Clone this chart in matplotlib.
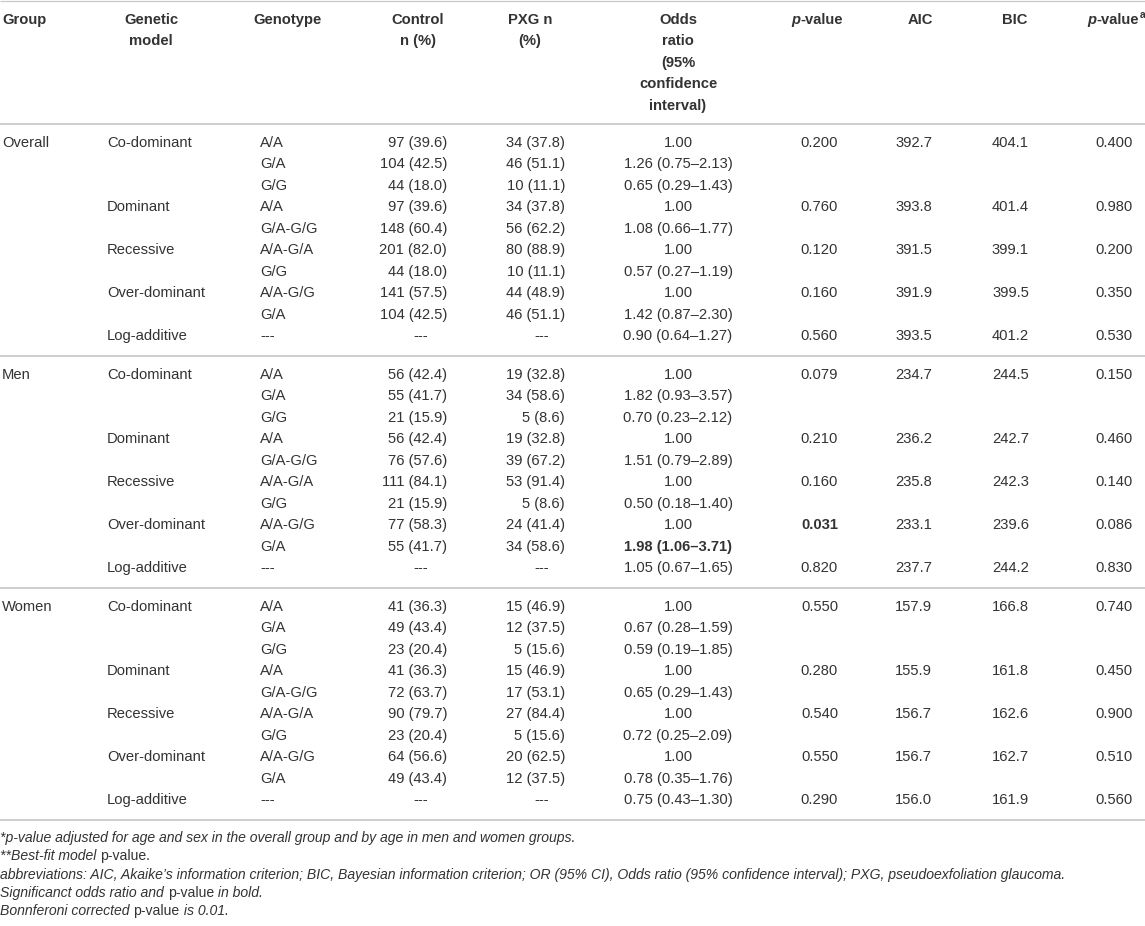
import matplotlib
matplotlib.use("Agg")
import matplotlib.pyplot as plt

# ---------------- data ----------------
groups = ["Overall", "Men", "Women"]
models = ["Co-dominant", "Dominant", "Recessive", "Over-dominant", "Log-additive"]
genotypes = [["A/A", "G/A", "G/G"], ["A/A", "G/A-G/G"], ["A/A-G/A", "G/G"],
             ["A/A-G/G", "G/A"], ["---"]]

control = [
    [["97 (39.6)", "104 (42.5)", "44 (18.0)"], ["97 (39.6)", "148 (60.4)"],
     ["201 (82.0)", "44 (18.0)"], ["141 (57.5)", "104 (42.5)"], ["---"]],
    [["56 (42.4)", "55 (41.7)", "21 (15.9)"], ["56 (42.4)", "76 (57.6)"],
     ["111 (84.1)", "21 (15.9)"], ["77 (58.3)", "55 (41.7)"], ["---"]],
    [["41 (36.3)", "49 (43.4)", "23 (20.4)"], ["41 (36.3)", "72 (63.7)"],
     ["90 (79.7)", "23 (20.4)"], ["64 (56.6)", "49 (43.4)"], ["---"]],
]
pxg = [
    [["34 (37.8)", "46 (51.1)", "10 (11.1)"], ["34 (37.8)", "56 (62.2)"],
     ["80 (88.9)", "10 (11.1)"], ["44 (48.9)", "46 (51.1)"], ["---"]],
    [["19 (32.8)", "34 (58.6)", "5 (8.6)"], ["19 (32.8)", "39 (67.2)"],
     ["53 (91.4)", "5 (8.6)"], ["24 (41.4)", "34 (58.6)"], ["---"]],
    [["15 (46.9)", "12 (37.5)", "5 (15.6)"], ["15 (46.9)", "17 (53.1)"],
     ["27 (84.4)", "5 (15.6)"], ["20 (62.5)", "12 (37.5)"], ["---"]],
]
odds = [
    [["1.00", "1.26 (0.75\u20132.13)", "0.65 (0.29\u20131.43)"], ["1.00", "1.08 (0.66\u20131.77)"],
     ["1.00", "0.57 (0.27\u20131.19)"], ["1.00", "1.42 (0.87\u20132.30)"], ["0.90 (0.64\u20131.27)"]],
    [["1.00", "1.82 (0.93\u20133.57)", "0.70 (0.23\u20132.12)"], ["1.00", "1.51 (0.79\u20132.89)"],
     ["1.00", "0.50 (0.18\u20131.40)"], ["1.00", "1.98 (1.06\u20133.71)"], ["1.05 (0.67\u20131.65)"]],
    [["1.00", "0.67 (0.28\u20131.59)", "0.59 (0.19\u20131.85)"], ["1.00", "0.65 (0.29\u20131.43)"],
     ["1.00", "0.72 (0.25\u20132.09)"], ["1.00", "0.78 (0.35\u20131.76)"], ["0.75 (0.43\u20131.30)"]],
]
pvals = [["0.200", "0.760", "0.120", "0.160", "0.560"],
         ["0.079", "0.210", "0.160", "0.031", "0.820"],
         ["0.550", "0.280", "0.540", "0.550", "0.290"]]
aic = [["392.7", "393.8", "391.5", "391.9", "393.5"],
       ["234.7", "236.2", "235.8", "233.1", "237.7"],
       ["157.9", "155.9", "156.7", "156.7", "156.0"]]
bic = [["404.1", "401.4", "399.1", "399.5", "401.2"],
       ["244.5", "242.7", "242.3", "239.6", "244.2"],
       ["166.8", "161.8", "162.6", "162.7", "161.9"]]
padj = [["0.400", "0.980", "0.200", "0.350", "0.530"],
        ["0.150", "0.460", "0.140", "0.086", "0.830"],
        ["0.740", "0.450", "0.900", "0.510", "0.560"]]
bold_odds = {("Men", 3, 1)}
bold_p = {("Men", 3)}

footnotes = [
    [("*p-value adjusted for age and sex in the overall group and by age in men and women groups.", "italic")],
    [("**Best-fit model ", "italic"), ("p-value.", "normal")],
    [("abbreviations: AIC, Akaike\u2019s information criterion; BIC, Bayesian information criterion; "
      "OR (95% CI), Odds ratio (95% confidence interval); PXG, pseudoexfoliation glaucoma.", "italic")],
    [("Significanct odds ratio and ", "italic"), ("p-value", "normal"), (" in bold.", "italic")],
    [("Bonnferoni corrected ", "italic"), ("p-value", "normal"), (" is 0.01.", "italic")],
]

# ---------------- layout ----------------
W, H = 1145, 926
FONT = "Liberation Sans"
FS = 10.6
FS_NOTE = 10.1
TXT = "#333333"
LINE = "#c9c9c9"

fig = plt.figure(figsize=(W / 100, H / 100), dpi=100)
ax = fig.add_axes([0, 0, 1, 1])
ax.set_xlim(0, W)
ax.set_ylim(H, 0)
ax.axis("off")
renderer = fig.canvas.get_renderer()


def txt(x, y, s, ha="left", weight="normal", style="normal", size=FS, color=TXT):
    return ax.text(x, y, s, ha=ha, va="center", fontsize=size, fontweight=weight,
                   fontstyle=style, family=FONT, color=color)


def width_px(s, weight="normal", style="normal", size=FS):
    t = ax.text(0, 0, s, fontsize=size, fontweight=weight, fontstyle=style, family=FONT)
    w = t.get_window_extent(renderer).width
    t.remove()
    return w


def rich(x, y, segs, ha="left", size=FS):
    # segs: list of (text, weight, style, dy, sizefactor)
    widths = [width_px(s, w, st, size * sf) for s, w, st, dy, sf in segs]
    total = sum(widths)
    if ha == "center":
        x = x - total / 2
    elif ha == "right":
        x = x - total
    for (s, w, st, dy, sf), wd in zip(segs, widths):
        ax.text(x, y + dy, s, ha="left", va="center", fontsize=size * sf, fontweight=w,
                fontstyle=st, family=FONT, color=TXT)
        x += wd


# horizontal rules
ax.plot([0, W], [1, 1], color=LINE, lw=0.9, solid_capstyle="butt")
section_lines = [124, 356, 588, 820]
for yl in section_lines:
    ax.plot([0, W], [yl, yl], color=LINE, lw=1.3, solid_capstyle="butt")

# column positions
X_GROUP, X_MODEL, X_GENO = 2, 107, 260
X_CTRL, X_PXG = 447, 565
X_CTRL_DASH, X_PXG_DASH = 428, 549
X_OR = 678
X_P, X_AIC, X_BIC, X_PADJ = 838, 932, 1029, 1133

# header
S = 21.44
hy = [20 + i * S for i in range(5)]
txt(X_GROUP, hy[0], "Group", weight="bold")
txt(151, hy[0], "Genetic", ha="center", weight="bold")
txt(151, hy[1], "model", ha="center", weight="bold")
txt(288, hy[0], "Genotype", ha="center", weight="bold")
txt(418, hy[0], "Control", ha="center", weight="bold")
txt(418, hy[1], "n (%)", ha="center", weight="bold")
txt(530, hy[0], "PXG n", ha="center", weight="bold")
txt(530, hy[1], "(%)", ha="center", weight="bold")
for i, s in enumerate(["Odds", "ratio", "(95%", "confidence", "interval)"]):
    txt(X_OR, hy[i], s, ha="center", weight="bold")
rich(843, hy[0], [("p", "bold", "italic", 0, 1), ("-value", "bold", "normal", 0, 1)], ha="right")
txt(933, hy[0], "AIC", ha="right", weight="bold")
txt(1027, hy[0], "BIC", ha="right", weight="bold")
rich(1145, hy[0], [("p", "bold", "italic", 0, 1), ("-value", "bold", "normal", 0, 1),
                   ("a", "bold", "normal", -5, 0.7)], ha="right")

# body
for gi, g in enumerate(groups):
    y = section_lines[gi] + 19
    txt(X_GROUP, y, g)
    for mi, m in enumerate(models):
        txt(X_MODEL, y, m)
        txt(X_P, y, pvals[gi][mi], ha="right",
            weight="bold" if (g, mi) in bold_p else "normal")
        txt(X_AIC, y, aic[gi][mi], ha="right")
        txt(X_BIC, y, bic[gi][mi], ha="right")
        txt(X_PADJ, y, padj[gi][mi], ha="right")
        for li, gen in enumerate(genotypes[mi]):
            yy = y + li * S
            txt(X_GENO, yy, gen)
            c = control[gi][mi][li]
            p = pxg[gi][mi][li]
            txt(X_CTRL_DASH if c == "---" else X_CTRL, yy, c, ha="right")
            txt(X_PXG_DASH if p == "---" else X_PXG, yy, p, ha="right")
            txt(X_OR, yy, odds[gi][mi][li], ha="center",
                weight="bold" if (g, mi, li) in bold_odds else "normal")
        y += len(genotypes[mi]) * S

# footnotes
fy = [838, 856.3, 874.6, 892.9, 911.2]
for y, segs in zip(fy, footnotes):
    rich(0, y, [(s, "normal", st, 0, 1) for s, st in segs], size=FS_NOTE)

fig.savefig("out.png", dpi=100, facecolor="white")
